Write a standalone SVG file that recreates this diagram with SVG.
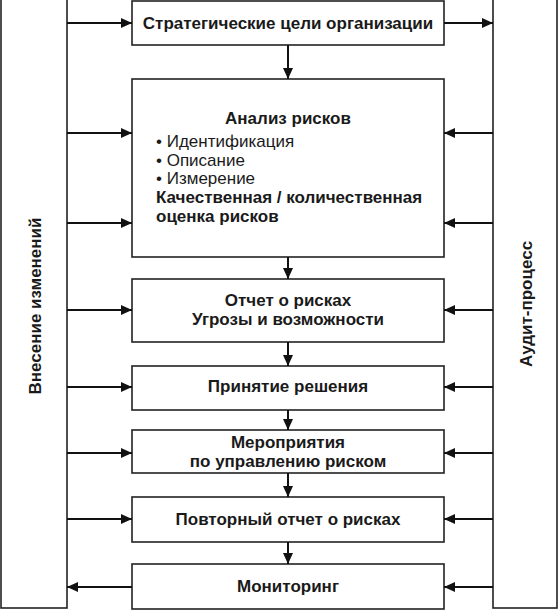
<svg xmlns="http://www.w3.org/2000/svg" width="560" height="610" viewBox="0 0 560 610">
<style>
.box{fill:#fff;stroke:#222;stroke-width:1.6}
.t{font-family:"Liberation Sans",Arial,sans-serif;font-size:17px;fill:#1a1a1a}
.b{font-weight:bold}
.c{text-anchor:middle}
.ln{stroke:#111;stroke-width:2;fill:none;marker-end:url(#ah)}
</style>
<defs>
<marker id="ah" markerUnits="userSpaceOnUse" markerWidth="12" markerHeight="10" refX="11" refY="5" orient="auto">
<path d="M0,0 L11,5 L0,10 Z" fill="#111"/>
</marker>
</defs>
<rect width="560" height="610" fill="#fff"/>
<g id="left-bar">
<rect class="box" x="1" y="-2" width="66" height="610"/>
<text class="t b c" transform="translate(41,306) rotate(-90)">Внесение изменений</text>
</g>
<g id="right-bar">
<rect class="box" x="493" y="-2" width="64" height="610"/>
<text class="t b c" transform="translate(532,304) rotate(-90)">Аудит-процесс</text>
</g>
<g id="strategic">
<rect class="box" x="132" y="1" width="312" height="44"/>
<text class="t b c" x="288" y="29">Стратегические цели организации</text>
</g>
<g id="analysis">
<rect class="box" x="132" y="79" width="312" height="178"/>
<text class="t b c" x="288" y="124">Анализ рисков</text>
<text class="t" x="156" y="147">• Идентификация</text>
<text class="t" x="156" y="166">• Описание</text>
<text class="t" x="156" y="184">• Измерение</text>
<text class="t b" x="156" y="203">Качественная / количественная</text>
<text class="t b" x="156" y="222">оценка рисков</text>
</g>
<g id="report">
<rect class="box" x="132" y="279" width="312" height="63"/>
<text class="t b c" x="288" y="306">Отчет о рисках</text>
<text class="t b c" x="288" y="325">Угрозы и возможности</text>
</g>
<g id="decision">
<rect class="box" x="132" y="366" width="312" height="44"/>
<text class="t b c" x="288" y="392">Принятие решения</text>
</g>
<g id="measures">
<rect class="box" x="132" y="430" width="312" height="43"/>
<text class="t b c" x="288" y="448">Мероприятия</text>
<text class="t b c" x="288" y="467">по управлению риском</text>
</g>
<g id="repeat-report">
<rect class="box" x="132" y="497" width="312" height="45"/>
<text class="t b c" x="288" y="525">Повторный отчет о рисках</text>
</g>
<g id="monitoring">
<rect class="box" x="132" y="564" width="312" height="45"/>
<text class="t b c" x="288" y="592">Мониторинг</text>
</g>
<g id="connectors">
<line class="ln" x1="288" y1="45" x2="288" y2="79"/>
<line class="ln" x1="288" y1="257" x2="288" y2="279"/>
<line class="ln" x1="288" y1="342" x2="288" y2="366"/>
<line class="ln" x1="288" y1="410" x2="288" y2="430"/>
<line class="ln" x1="288" y1="473" x2="288" y2="497"/>
<line class="ln" x1="288" y1="542" x2="288" y2="564"/>
<line class="ln" x1="67" y1="23" x2="132" y2="23"/>
<line class="ln" x1="67" y1="133" x2="132" y2="133"/>
<line class="ln" x1="67" y1="223" x2="132" y2="223"/>
<line class="ln" x1="67" y1="310" x2="132" y2="310"/>
<line class="ln" x1="67" y1="387" x2="132" y2="387"/>
<line class="ln" x1="67" y1="453" x2="132" y2="453"/>
<line class="ln" x1="67" y1="519" x2="132" y2="519"/>
<line class="ln" x1="132" y1="587" x2="67" y2="587"/>
<line class="ln" x1="444" y1="23" x2="493" y2="23"/>
<line class="ln" x1="493" y1="133" x2="444" y2="133"/>
<line class="ln" x1="493" y1="223" x2="444" y2="223"/>
<line class="ln" x1="493" y1="310" x2="444" y2="310"/>
<line class="ln" x1="493" y1="387" x2="444" y2="387"/>
<line class="ln" x1="493" y1="453" x2="444" y2="453"/>
<line class="ln" x1="493" y1="519" x2="444" y2="519"/>
<line class="ln" x1="493" y1="587" x2="444" y2="587"/>
</g>
</svg>
